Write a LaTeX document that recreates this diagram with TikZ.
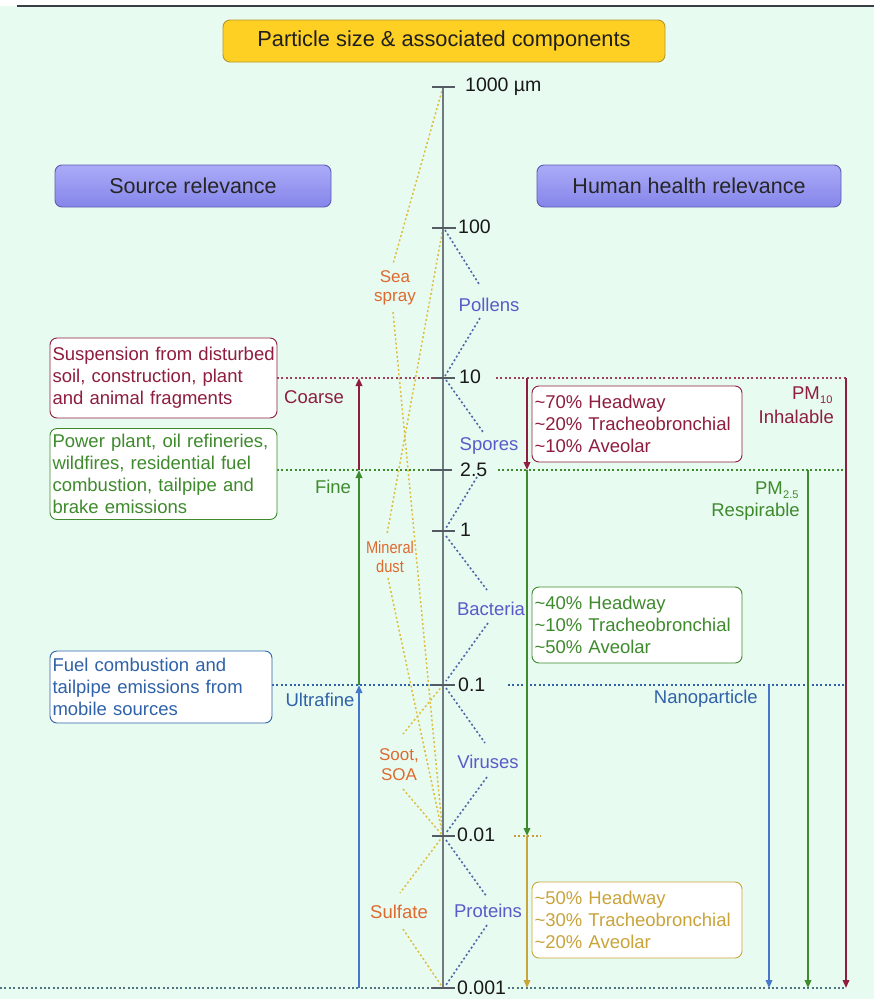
\documentclass[tikz,border=0pt]{standalone}
\usepackage{fontspec}
\setmainfont{Liberation Sans}
\usetikzlibrary{arrows.meta}
\definecolor{bgmint}{HTML}{E8FBF1}
\definecolor{topline}{HTML}{3A3F45}
\definecolor{dred}{HTML}{8E1D3F}
\definecolor{dgreen}{HTML}{3E8A2C}
\definecolor{dblue}{HTML}{2F62A8}
\definecolor{arblue}{HTML}{4677CC}
\definecolor{ogold}{HTML}{C9A43A}
\definecolor{peri}{HTML}{5A5AC8}
\definecolor{orng}{HTML}{DD6A2F}
\definecolor{yel}{HTML}{DDBE3C}
\definecolor{zig}{HTML}{4E66A6}
\definecolor{axisgray}{HTML}{707880}
\definecolor{tickgray}{HTML}{555B62}
\definecolor{titlefill}{HTML}{FFD024}
\definecolor{titledraw}{HTML}{B8962A}
\definecolor{headtop}{HTML}{ABABF8}
\definecolor{headbot}{HTML}{8585EA}
\definecolor{headdraw}{HTML}{5C5CB4}
\definecolor{botline}{HTML}{4D7480}
\definecolor{shortor}{HTML}{C99A3A}

\tikzset{
  body/.style={font=\fontsize{18.5}{22}\selectfont, inner sep=0pt},
  ticklab/.style={font=\fontsize{19.5}{22}\selectfont, inner sep=0pt, anchor=west, text=black!90},
  comp/.style={body, text=peri},
  orlab/.style={inner sep=0pt, align=center, text=orng},
  subl/.style={inner sep=0pt, anchor=west, font=\fontsize{11}{11}\selectfont},
  infobox/.style={draw=#1, text=#1, fill=white, rounded corners=7pt, line width=0.9pt,
     align=left, inner xsep=2.5pt, inner ysep=0pt, font=\fontsize{18.5}{22}\selectfont,
     execute at begin node={\hyphenpenalty=10000\exhyphenpenalty=10000}},
  headbox/.style={draw=headdraw, top color=headtop, bottom color=headbot, rounded corners=7pt,
     line width=0.9pt, minimum height=42pt, inner sep=0pt, text=black!85,
     font=\fontsize{21.5}{24}\selectfont},
  arr/.style={line width=1.8pt, -{Triangle[length=8pt,width=6.5pt]}},
  dotline/.style={line width=1.6pt, dash pattern=on 2pt off 2.4pt},
  zigline/.style={line width=1.6pt, dash pattern=on 2pt off 2.4pt, zig},
  yelline/.style={line width=1.5pt, dash pattern=on 2pt off 2.4pt, yel},
  tickmark/.style={line width=1.5pt, tickgray},
}

\begin{document}
\begin{tikzpicture}[x=1pt,y=-1pt]
\useasboundingbox (0,0) rectangle (874,999);
\fill[bgmint] (0,6) rectangle (874,999);
\coordinate (tlA) at (17,6);
\coordinate (tlB) at (874,6);
\draw[line width=1.5pt, topline] (tlA) -- (tlB);

% title and headings
\node[draw=titledraw, fill=titlefill, rounded corners=7pt, line width=0.9pt,
      minimum width=442pt, minimum height=42pt, inner sep=0pt,
      font=\fontsize{21.8}{24}\selectfont, text=black!88] (title) at (444,41)
      {Particle size \& associated components};
\node[headbox, minimum width=276pt] (src) at (193,186) {Source relevance};
\node[headbox, minimum width=304pt] (hh) at (689,186) {Human health relevance};

% axis coordinates
\coordinate (a1000) at (443,87);
\coordinate (a100) at (443,228);
\coordinate (a10) at (443,378);
\coordinate (a25) at (443,470);
\coordinate (a1) at (443,531);
\coordinate (a01) at (443,685);
\coordinate (a001) at (443,836);
\coordinate (a0001) at (443,988);

% horizontal dotted level lines
\coordinate (rL1) at (277,378); \coordinate (rL2) at (433,378);
\coordinate (rR1) at (496,378); \coordinate (rR2) at (846,378);
\coordinate (gL1) at (277,470); \coordinate (gL2) at (430,470);
\coordinate (gR1) at (498,470); \coordinate (gR2) at (846,470);
\coordinate (bL1) at (272,685); \coordinate (bL2) at (437,685);
\coordinate (bR1) at (508,685); \coordinate (bR2) at (846,685);
\coordinate (kL1) at (0,988);   \coordinate (kL2) at (432,988);
\coordinate (kR1) at (508,988); \coordinate (kR2) at (846,988);
\coordinate (oS1) at (514,836); \coordinate (oS2) at (541,836);
\draw[dotline, dred!85] (rL1) -- (rL2);
\draw[dotline, dred!85] (rR1) -- (rR2);
\draw[dotline, dgreen] (gL1) -- (gL2);
\draw[dotline, dgreen] (gR1) -- (gR2);
\draw[dotline, dblue] (bL1) -- (bL2);
\draw[dotline, dblue] (bR1) -- (bR2);
\draw[dotline, botline] (kL1) -- (kL2);
\draw[dotline, botline] (kR1) -- (kR2);
\draw[dotline, shortor] (oS1) -- (oS2);

% yellow dotted component lines (left)
\node[orlab, font=\fontsize{17}{19}\selectfont] (sea) at (395,288) {Sea\\spray};
\node[orlab, font=\fontsize{17}{18.5}\selectfont] (mdust) at (390,557)
  {\scalebox{0.86}[1]{Mineral}\\\scalebox{0.86}[1]{dust}};
\node[orlab, font=\fontsize{17}{20}\selectfont] (soot) at (399,765) {Soot,\\SOA};
\node[orlab, font=\fontsize{18.5}{20}\selectfont] (sulf) at (399,912) {Sulfate};
\coordinate (seaT) at (393,264); \coordinate (seaB) at (393,312);
\coordinate (mdT) at (387,534);  \coordinate (mdB) at (388,578);
\coordinate (soT) at (403,734);  \coordinate (soB) at (403,789);
\coordinate (suT) at (400,893);  \coordinate (suB) at (403,929);
\draw[yelline] (a1000) -- (seaT);
\draw[yelline] (seaB) -- (a001);
\draw[yelline] (a100) -- (mdT);
\draw[yelline] (mdB) -- (a001);
\draw[yelline] (a01) -- (soT);
\draw[yelline] (soB) -- (a001);
\draw[yelline] (a001) -- (suT);
\draw[yelline] (suB) -- (a0001);

% axis
\draw[line width=2pt, axisgray] (a1000) -- (a0001);
\foreach \n/\y/\xa/\xb in {t1000/87/432/455, t100/228/432/456, t10/378/433/455, t25/470/430/452,
   t1/531/432/455, t01/685/432/455, t001/836/432/455, t0001/988/432/455}{
  \coordinate (\n l) at (\xa,\y); \coordinate (\n r) at (\xb,\y);
  \draw[tickmark] (\n l) -- (\n r);
}
\node[ticklab] (l1000) at (465,87) {1000 µm};
\node[ticklab] (l100) at (458,227) {100};
\node[ticklab] (l10) at (459,377) {10};
\node[ticklab] (l25) at (460,470) {2.5};
\node[ticklab] (l1) at (460,530) {1};
\node[ticklab] (l01) at (458,685) {0.1};
\node[ticklab] (l001) at (457,835) {0.01};
\node[ticklab] (l0001) at (457,988) {0.001};

% blue components (right of axis)
\node[comp] (pollens) at (489,305) {Pollens};
\node[comp] (spores) at (489,446) {Spores};
\node[comp] (bact) at (491,609) {Bacteria};
\node[comp] (vir) at (488,762) {Viruses};
\node[comp] (prot) at (488,911) {Proteins};
\coordinate (z1a) at (445,230); \coordinate (z1b) at (479,284);
\coordinate (z1c) at (480,318); \coordinate (z1d) at (445,376);
\coordinate (z2a) at (446,380); \coordinate (z2b) at (483,432);
\coordinate (z2c) at (477,477); \coordinate (z2d) at (446,528);
\coordinate (z3a) at (446,536); \coordinate (z3b) at (487,590);
\coordinate (z3c) at (488,623); \coordinate (z3d) at (446,681);
\coordinate (z4a) at (446,688); \coordinate (z4b) at (485,743);
\coordinate (z4c) at (487,777); \coordinate (z4d) at (446,833);
\coordinate (z5a) at (446,840); \coordinate (z5b) at (487,897);
\coordinate (z5c) at (487,925); \coordinate (z5d) at (446,985);
\draw[zigline] (z1a) -- (z1b);  \draw[zigline] (z1c) -- (z1d);
\draw[zigline] (z2a) -- (z2b);  \draw[zigline] (z2c) -- (z2d);
\draw[zigline] (z3a) -- (z3b);  \draw[zigline] (z3c) -- (z3d);
\draw[zigline] (z4a) -- (z4b);  \draw[zigline] (z4c) -- (z4d);
\draw[zigline] (z5a) -- (z5b);  \draw[zigline] (z5c) -- (z5d);

% source boxes (left)
\node[infobox=dred, text width=222pt, minimum height=80pt] (coarsebox) at (163.5,378)
  {\mbox{Suspension from disturbed}\\\mbox{soil, construction, plant}\\\mbox{and animal fragments}};
\node[infobox=dgreen, text width=222pt, minimum height=91pt] (finebox) at (163.5,474)
  {\mbox{Power plant, oil refineries,}\\wildfires, residential fuel\\combustion, tailpipe and\\brake emissions};
\node[infobox=dblue, text width=217pt, minimum height=72pt] (ufbox) at (161,687)
  {Fuel combustion and\\tailpipe emissions from\\mobile sources};

\node[body, text=dred] (coarse) at (314,397) {Coarse};
\node[body, text=dgreen] (fine) at (333,487) {Fine};
\node[body, text=dblue] (ultra) at (320,700) {Ultrafine};

\coordinate (lx10) at (359,378); \coordinate (lx25) at (359,470);
\coordinate (lx01) at (359,685); \coordinate (lx0001) at (359,988);
\draw[arr, dred] (lx25) -- (lx10);
\draw[arr, dgreen] (lx01) -- (lx25);
\draw[arr, arblue] (lx0001) -- (lx01);

% health side
\coordinate (mx10) at (527,378); \coordinate (mx25) at (527,470);
\coordinate (mx001) at (527,836); \coordinate (mx0001) at (527,988);
\draw[arr, dred] (mx10) -- (mx25);
\draw[arr, dgreen] (mx25) -- (mx001);
\draw[arr, ogold] (mx001) -- (mx0001);

\node[infobox=dred, text width=205pt, minimum height=76pt] (hb1) at (637,424)
  {\textasciitilde70\% Headway\\\textasciitilde20\% Tracheobronchial\\\textasciitilde10\% Aveolar};
\node[infobox=dgreen, text width=205pt, minimum height=76pt] (hb2) at (637,625)
  {\textasciitilde40\% Headway\\\textasciitilde10\% Tracheobronchial\\\textasciitilde50\% Aveolar};
\node[infobox=ogold, text width=205pt, minimum height=76pt] (hb3) at (637,920)
  {\textasciitilde50\% Headway\\\textasciitilde30\% Tracheobronchial\\\textasciitilde20\% Aveolar};

\coordinate (px10) at (846,378); \coordinate (px10b) at (846,988);
\coordinate (px25) at (808,470); \coordinate (px25b) at (808,988);
\coordinate (px01) at (769,685); \coordinate (px01b) at (769,988);
\draw[arr, dred] (px10) -- (px10b);
\draw[arr, dgreen] (px25) -- (px25b);
\draw[arr, arblue] (px01) -- (px01b);

\node[body, text=dred, anchor=east] (pm10) at (820,393) {PM};
\node[subl, text=dred] (pm10s) at (pm10.east) [yshift=-7pt] {10};
\node[body, text=dred, anchor=east] (inh) at (834,417) {Inhalable};
\node[body, text=dgreen, anchor=east] (pm25) at (783,488) {PM};
\node[subl, text=dgreen] (pm25s) at (pm25.east) [yshift=-7pt] {2.5};
\node[body, text=dgreen, anchor=east] (resp) at (800,512) {Respirable};
\node[body, text=dblue, anchor=east] (nano) at (758,699) {Nanoparticle};
\end{tikzpicture}
\end{document}
